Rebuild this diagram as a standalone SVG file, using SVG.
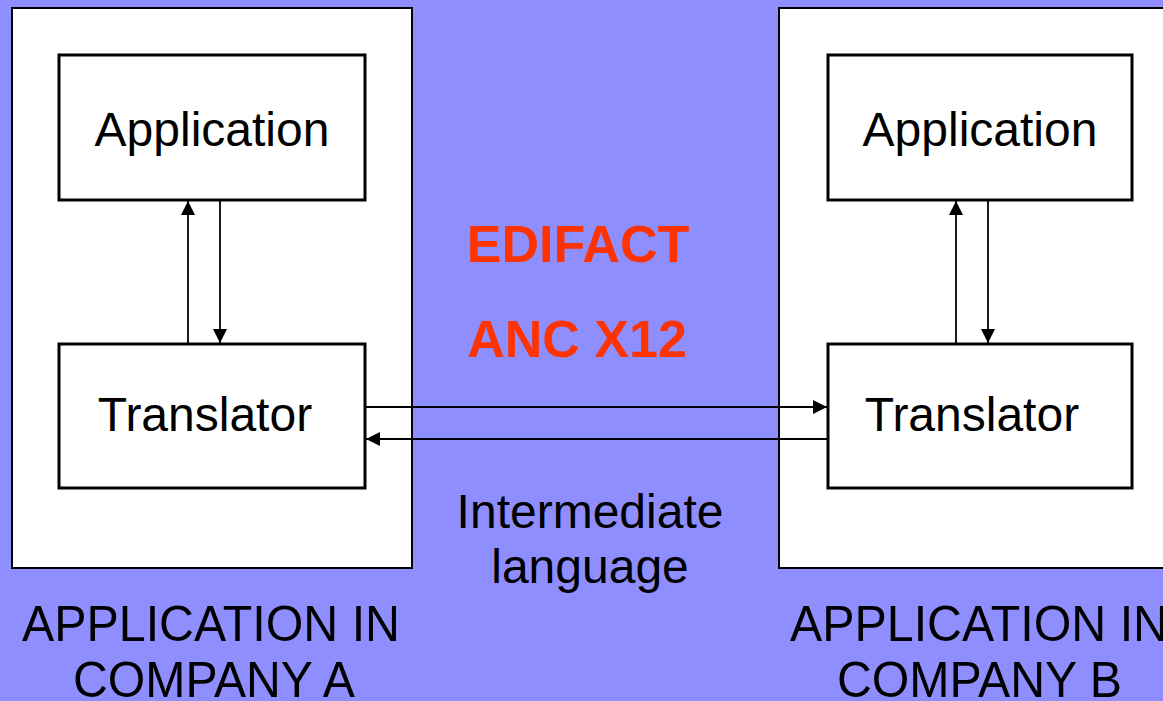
<svg xmlns="http://www.w3.org/2000/svg" width="1163" height="701" viewBox="0 0 1163 701">
<defs>
<style>
.outer{fill:#fff;stroke:#000;stroke-width:2}
.box{fill:#fff;stroke:#000;stroke-width:3}
.t{font-family:"Liberation Sans",Arial,sans-serif;font-size:48px;fill:#000;text-anchor:middle}
.red{font-family:"Liberation Sans",Arial,sans-serif;font-size:52px;font-weight:bold;fill:#FF3300;text-anchor:middle}
.lbl{font-family:"Liberation Sans",Arial,sans-serif;font-size:50px;fill:#000}
.c{stroke:#000;stroke-width:1.8;fill:none;marker-end:url(#ah)}
</style>
<marker id="ah" viewBox="0 0 10 10" refX="10" refY="5" markerWidth="14" markerHeight="14" markerUnits="userSpaceOnUse" orient="auto">
<path d="M0,0 L10,5 L0,10 Z" fill="#000"/>
</marker>
</defs>
<rect width="1163" height="701" fill="#8E8EFF"/>
<g id="companyA">
<rect class="outer" x="12" y="8" width="400" height="560"/>
</g>
<g id="companyB">
<rect class="outer" x="779" y="8" width="400" height="560"/>
</g>
<g id="appA">
<rect class="box" x="59" y="55" width="306" height="145"/>
<text class="t" x="212" y="146">Application</text>
</g>
<g id="transA">
<rect class="box" x="59" y="344" width="306" height="144"/>
<text class="t" x="205" y="431">Translator</text>
</g>
<g id="appB">
<rect class="box" x="828" y="55" width="304" height="145"/>
<text class="t" x="980" y="146">Application</text>
</g>
<g id="transB">
<rect class="box" x="828" y="344" width="304" height="144"/>
<text class="t" x="972" y="431">Translator</text>
</g>
<g id="connectors">
<line class="c" x1="188" y1="344" x2="188" y2="201"/>
<line class="c" x1="220" y1="200" x2="220" y2="343"/>
<line class="c" x1="956" y1="344" x2="956" y2="201"/>
<line class="c" x1="988" y1="200" x2="988" y2="343"/>
<line class="c" x1="365" y1="407" x2="827" y2="407"/>
<line class="c" x1="828" y1="439" x2="366" y2="439"/>
</g>
<g id="labels">
<text class="red" x="578" y="262">EDIFACT</text>
<text class="red" x="577" y="357">ANC X12</text>
<text class="t" x="590" y="528">Intermediate</text>
<text class="t" x="590" y="583">language</text>
<text class="lbl" x="22" y="641" textLength="378" lengthAdjust="spacingAndGlyphs">APPLICATION IN</text>
<text class="lbl" x="73" y="697" textLength="282" lengthAdjust="spacingAndGlyphs">COMPANY A</text>
<text class="lbl" x="790" y="641" textLength="378" lengthAdjust="spacingAndGlyphs">APPLICATION IN</text>
<text class="lbl" x="837" y="697" textLength="285" lengthAdjust="spacingAndGlyphs">COMPANY B</text>
</g>
</svg>
